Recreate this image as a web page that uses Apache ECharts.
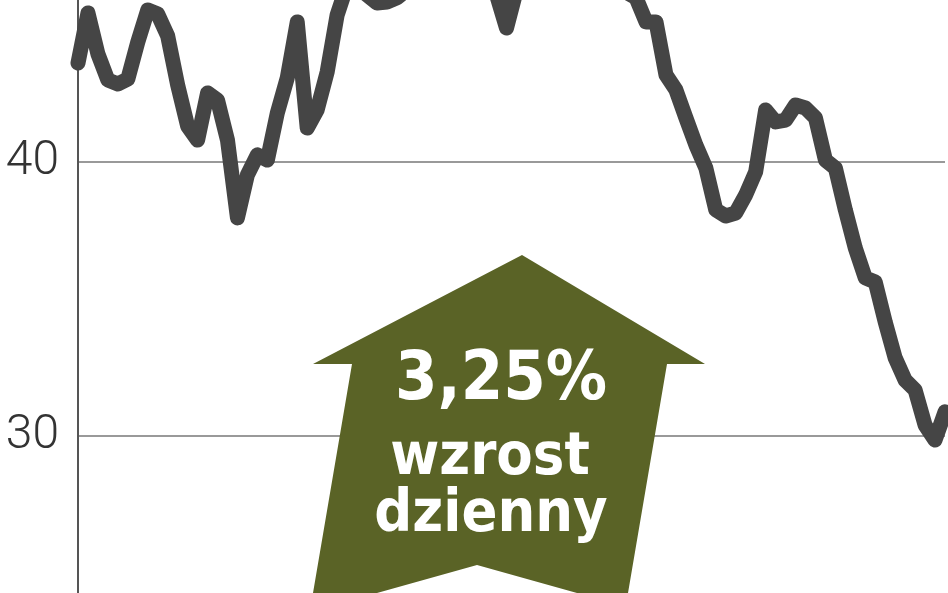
<!DOCTYPE html>
<html>
<head>
<meta charset="utf-8">
<script src="https://cdn.jsdelivr.net/npm/echarts@6/dist/echarts.min.js"></script>
<style>
  html, body { margin: 0; padding: 0; background: #fff; }
  #chart { width: 948px; height: 593px; }
</style>
</head>
<body>
<div id="chart"></div>
<script>
// notowania, kolejne sesje
const prices = [
  43.61, 45.44, 43.94, 42.99, 42.85, 43.03, 44.38, 45.55, 45.40, 44.60,
  42.81, 41.31, 40.80, 42.52, 42.26, 40.80, 37.96, 39.53, 40.26, 40.07,
  41.79, 43.07, 45.11, 41.24, 41.90, 43.28, 45.36, 46.46, 46.35, 46.10,
  45.80, 45.84, 45.99, 46.28, 46.64, 46.82, 46.70, 46.90, 46.64, 46.46,
  46.57, 46.28, 46.10, 44.89, 46.28, 46.82, 47.19, 47.00, 47.30, 47.00,
  46.82, 47.08, 46.64, 46.46, 46.35, 46.20, 45.99, 45.11, 45.11, 43.18,
  42.63, 41.61, 40.62, 39.78, 38.25, 38.03, 38.14, 38.80, 39.64, 41.90,
  41.46, 41.53, 42.08, 41.97, 41.61, 40.07, 39.78, 38.25, 36.86, 35.77,
  35.62, 34.16, 32.85, 32.04, 31.68, 30.40, 29.85, 30.88
];
const sessions = prices.map((_, i) => i + 1);
const yTicks = [20, 30, 40, 50];
const badge = ['3,25%', 'wzrost', 'dzienny'];

const chart = echarts.init(document.getElementById('chart'));

const badgeFont = size =>
  'bold ' + size + 'px "DejaVu Sans Condensed", "Liberation Sans Narrow", sans-serif';

chart.setOption({
  animation: false,
  backgroundColor: '#fff',
  grid: {
    left: 78, right: 3, top: -112, bottom: -117,
    containLabel: false, outerBoundsMode: 'none'
  },
  xAxis: {
    type: 'category',
    data: sessions,
    boundaryGap: false,
    show: false
  },
  yAxis: {
    type: 'value',
    min: yTicks[0],
    max: yTicks[yTicks.length - 1],
    interval: 10,
    axisLine: { show: true, lineStyle: { color: '#555', width: 2 } },
    axisTick: { show: false },
    axisLabel: {
      margin: 19,
      color: '#333',
      fontFamily: 'Roboto',
      fontWeight: 300,
      fontSize: 48,
      formatter: v => (v === 30 || v === 40) ? String(v) : ''
    },
    splitLine: { show: true, lineStyle: { color: '#999', width: 2 } }
  },
  series: [{
    type: 'line',
    data: prices,
    symbol: 'none',
    lineStyle: { color: '#454545', width: 15, cap: 'round', join: 'round' },
    z: 3
  }],
  graphic: [
    {
      type: 'polygon',
      z: 10,
      shape: {
        points: [
          [522, 255], [705, 364], [667, 364], [628, 593], [577, 593],
          [477, 565], [377, 593], [313, 593], [352, 364], [313, 364]
        ]
      },
      style: { fill: '#5a6326' }
    },
    {
      type: 'text', z: 11, x: 501, y: 347,
      style: { text: badge[0], fill: '#fff', align: 'center', verticalAlign: 'top', font: badgeFont(68) }
    },
    {
      type: 'text', z: 11, x: 490, y: 429,
      style: { text: badge[1], fill: '#fff', align: 'center', verticalAlign: 'top', font: badgeFont(59) }
    },
    {
      type: 'text', z: 11, x: 491, y: 486,
      style: { text: badge[2], fill: '#fff', align: 'center', verticalAlign: 'top', font: badgeFont(59) }
    }
  ]
});
</script>
</body>
</html>
